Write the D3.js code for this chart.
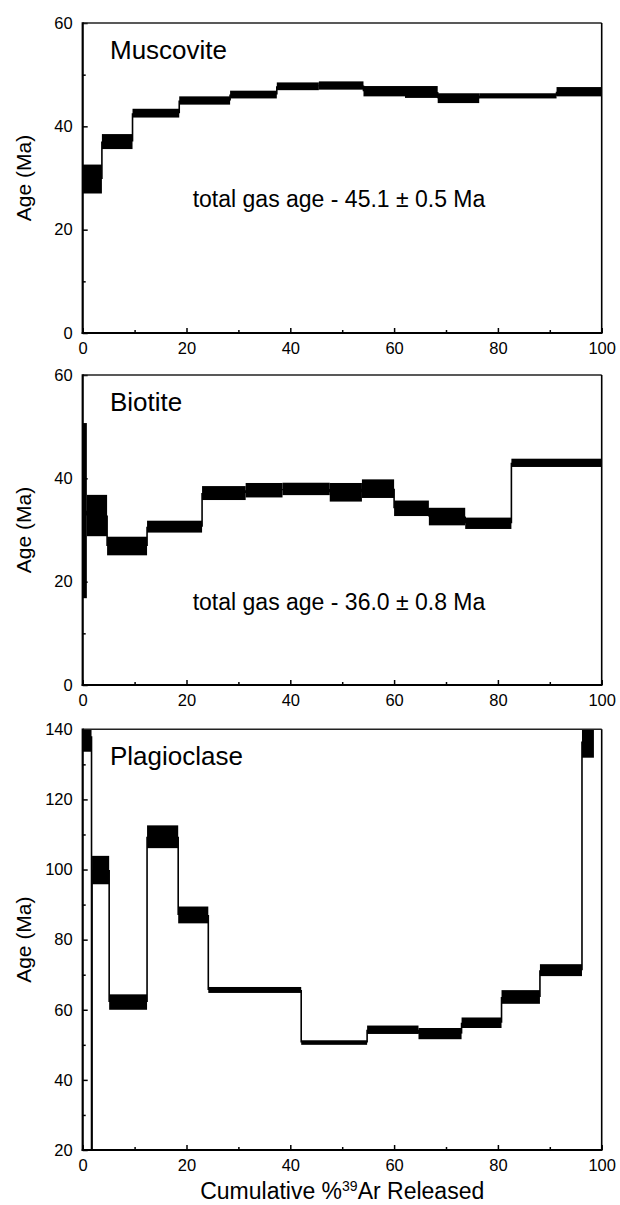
<!DOCTYPE html>
<html>
<head>
<meta charset="utf-8">
<script src="https://cdn.jsdelivr.net/npm/d3@7"></script>
<style>
  html, body { margin: 0; padding: 0; background: #fff; }
  svg { display: block; }
  text { font-family: "Liberation Sans", Arial, sans-serif; fill: #000; }
</style>
</head>
<body>
<svg id="chart" width="620" height="1205"></svg>
<script>
// ---------------- data ----------------
const xMajorTicks = [0, 20, 40, 60, 80, 100];
const xMinorTicks = [10, 30, 50, 70, 90];

const muscoviteEdges = [0, 3.7, 9.6, 18.6, 28.4, 37.4, 45.5, 54.1, 62.1, 68.4, 76.4, 91.3, 100];
const muscoviteAges  = [29.8, 37.05, 42.55, 45.0, 46.15, 47.75, 47.9, 46.8, 46.65, 45.45, 45.9, 46.7];
const muscoviteErrs  = [2.8, 1.45, 0.85, 0.8, 0.75, 0.75, 0.8, 1.0, 1.15, 0.95, 0.5, 0.9];

const biotiteEdges = [0, 0.8, 4.7, 12.4, 23.0, 31.4, 38.5, 47.6, 53.8, 60.0, 66.7, 73.7, 82.6, 100];
const biotiteAges  = [33.75, 32.8, 26.9, 30.65, 37.15, 37.7, 37.95, 37.3, 38.0, 34.2, 32.6, 31.3, 43.0];
const biotiteErrs  = [16.95, 4.0, 1.8, 1.15, 1.35, 1.4, 1.2, 1.8, 1.8, 1.5, 1.7, 1.1, 0.8];

const plagioclaseEdges = [0, 1.7, 1.8, 5.1, 12.4, 18.4, 24.2, 42.1, 54.8, 64.7, 73.0, 80.7, 88.1, 96.2, 98.5];
const plagioclaseAges  = [138, 8, 99.85, 62.2, 109.35, 87.05, 65.65, 50.65, 54.3, 53.2, 56.3, 63.65, 71.3, 136.5];
const plagioclaseErrs  = [4.4, 4, 4.05, 2.2, 3.25, 2.4, 0.85, 0.65, 1.2, 1.6, 1.5, 1.95, 1.7, 4.6];

const panelNames = ["Muscovite", "Biotite", "Plagioclase"];
const panelNotes = ["total gas age - 45.1 \u00B1 0.5 Ma", "total gas age - 36.0 \u00B1 0.8 Ma", null];
const yDomains = [[0, 60], [0, 60], [20, 140]];
const yMajorTicks = [[0, 20, 40, 60], [0, 20, 40, 60], [20, 40, 60, 80, 100, 120, 140]];
const yMinorTicks = [[10, 30, 50], [10, 30, 50], [30, 50, 70, 90, 110, 130]];
const noteAges = [24.4, 14.5, null];

const yLabel = "Age (Ma)";

// ---------------- layout ----------------
const left = 82.7, right = 601.7;
const panelTops = [23, 375, 729.3];
const panelBottoms = [333, 685, 1150];

const svg = d3.select("#chart");
const x = d3.scaleLinear().domain([0, 100]).range([left, right]);

const datasets = [
  {edges: muscoviteEdges, ages: muscoviteAges, errs: muscoviteErrs},
  {edges: biotiteEdges, ages: biotiteAges, errs: biotiteErrs},
  {edges: plagioclaseEdges, ages: plagioclaseAges, errs: plagioclaseErrs}
];

datasets.forEach((ds, p) => {
  const top = panelTops[p], bottom = panelBottoms[p];
  const y = d3.scaleLinear().domain(yDomains[p]).range([bottom, top]);
  const g = svg.append("g");

  const clipId = "clip" + p;
  svg.append("clipPath").attr("id", clipId)
    .append("rect").attr("x", left).attr("y", top)
    .attr("width", right - left).attr("height", bottom - top);

  const plot = g.append("g").attr("clip-path", `url(#${clipId})`);

  const steps = ds.ages.map((a, i) => ({x0: ds.edges[i], x1: ds.edges[i + 1], age: a, err: ds.errs[i]}));

  // connectors
  const conns = [];
  for (let i = 0; i < steps.length - 1; i++) {
    conns.push({x: steps[i].x1, a0: steps[i].age, a1: steps[i + 1].age});
  }
  plot.selectAll("line.conn").data(conns).enter().append("line")
    .attr("class", "conn")
    .attr("x1", d => x(d.x)).attr("x2", d => x(d.x))
    .attr("y1", d => y(d.a0)).attr("y2", d => y(d.a1))
    .attr("stroke", "#000").attr("stroke-width", 1.6);

  // boxes
  plot.selectAll("rect.step").data(steps).enter().append("rect")
    .attr("class", "step")
    .attr("x", d => x(d.x0))
    .attr("width", d => x(d.x1) - x(d.x0))
    .attr("y", d => y(d.age + d.err))
    .attr("height", d => y(d.age - d.err) - y(d.age + d.err))
    .attr("fill", "#000");

  // axes ticks
  const xAx = g.append("g").attr("transform", `translate(0,${bottom})`)
    .call(d3.axisBottom(x).tickValues(xMajorTicks).tickSize(-5).tickPadding(9.5).tickFormat(d3.format("d")));
  const xAxMinor = g.append("g").attr("transform", `translate(0,${bottom})`)
    .call(d3.axisBottom(x).tickValues(xMinorTicks).tickSize(-3).tickFormat(""));
  const yAx = g.append("g").attr("transform", `translate(${left},0)`)
    .call(d3.axisLeft(y).tickValues(yMajorTicks[p]).tickSize(-5).tickPadding(10).tickFormat(d3.format("d")));
  const yAxMinor = g.append("g").attr("transform", `translate(${left},0)`)
    .call(d3.axisLeft(y).tickValues(yMinorTicks[p]).tickSize(-3).tickFormat(""));
  [xAx, xAxMinor, yAx, yAxMinor].forEach(a => {
    a.select(".domain").remove();
    a.selectAll(".tick line").attr("stroke", "#000").attr("stroke-width", 1.5);
    a.selectAll("text").attr("font-size", 16.5).attr("font-family", "Liberation Sans, Arial, sans-serif").attr("fill", "#000");
  });

  // frame
  g.append("line").attr("x1", left).attr("x2", right).attr("y1", top).attr("y2", top)
    .attr("stroke", "#222").attr("stroke-width", 1.5);
  g.append("line").attr("x1", right).attr("x2", right).attr("y1", top).attr("y2", bottom)
    .attr("stroke", "#000").attr("stroke-width", 1.6);
  g.append("line").attr("x1", left).attr("x2", left).attr("y1", top - 0.75).attr("y2", bottom + 1)
    .attr("stroke", "#000").attr("stroke-width", 2.2);
  g.append("line").attr("x1", left - 1).attr("x2", right + 0.8).attr("y1", bottom).attr("y2", bottom)
    .attr("stroke", "#000").attr("stroke-width", 2.2);

  // title
  g.append("text").attr("x", 110).attr("y", top + 36)
    .attr("font-size", 26).text(panelNames[p]);

  // note
  if (panelNotes[p]) {
    g.append("text").attr("x", 192.7).attr("y", y(noteAges[p]))
      .attr("font-size", 23).text(panelNotes[p]);
  }

  // y label
  g.append("text")
    .attr("transform", `translate(31,${(top + bottom) / 2}) rotate(-90)`)
    .attr("text-anchor", "middle")
    .attr("font-size", 21).text(yLabel);
});

// x label
const xl = svg.append("text").attr("x", (left + right) / 2).attr("y", 1199)
  .attr("text-anchor", "middle").attr("font-size", 23);
xl.append("tspan").text("Cumulative %");
xl.append("tspan").attr("font-size", 14).attr("dy", -8).text("39");
xl.append("tspan").attr("dy", 8).text("Ar Released");
</script>
</body>
</html>
